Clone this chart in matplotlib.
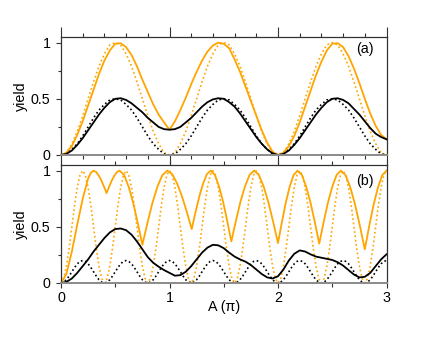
import numpy as np
import matplotlib
matplotlib.use("Agg")
import matplotlib.pyplot as plt
from matplotlib.ticker import MultipleLocator

plt.rcParams['font.family'] = ['Liberation Sans', 'DejaVu Sans']

# ---------------- panel (a) : A sampled every 0.05 pi ----------------
A_a = np.linspace(0, 3, 61)
orange_solid_a = [0.00, 0.02, 0.08, 0.18, 0.30, 0.44, 0.58, 0.72, 0.84, 0.93,
                  0.99, 0.995, 0.96, 0.89, 0.79, 0.67, 0.56, 0.45, 0.36, 0.29,
                  0.225, 0.30, 0.40, 0.51, 0.63, 0.74, 0.84, 0.92, 0.975, 1.00,
                  0.99, 0.95, 0.85, 0.74, 0.61, 0.48, 0.35, 0.22, 0.11, 0.03,
                  0.00, 0.02, 0.08, 0.17, 0.29, 0.43, 0.57, 0.71, 0.83, 0.93,
                  0.99, 0.995, 0.96, 0.88, 0.77, 0.64, 0.50, 0.37, 0.26, 0.18,
                  0.14]
black_solid_a = [0.00, 0.01, 0.04, 0.09, 0.15, 0.22, 0.29, 0.36, 0.42, 0.47,
                 0.50, 0.505, 0.49, 0.46, 0.42, 0.38, 0.33, 0.29, 0.25, 0.23,
                 0.225, 0.23, 0.25, 0.29, 0.33, 0.38, 0.43, 0.47, 0.495, 0.505,
                 0.50, 0.47, 0.43, 0.37, 0.30, 0.23, 0.16, 0.10, 0.05, 0.015,
                 0.00, 0.01, 0.04, 0.09, 0.15, 0.22, 0.29, 0.36, 0.42, 0.47,
                 0.50, 0.505, 0.49, 0.46, 0.41, 0.36, 0.30, 0.24, 0.19, 0.16,
                 0.14]
orange_dot_a = [0.00, 0.02, 0.10, 0.21, 0.35, 0.50, 0.65, 0.79, 0.90, 0.98,
                1.00, 0.98, 0.90, 0.79, 0.65, 0.50, 0.35, 0.21, 0.10, 0.02,
                0.00, 0.02, 0.10, 0.21, 0.35, 0.50, 0.65, 0.79, 0.90, 0.98,
                1.00, 0.98, 0.90, 0.79, 0.65, 0.50, 0.35, 0.21, 0.10, 0.02,
                0.00, 0.02, 0.10, 0.21, 0.35, 0.50, 0.65, 0.79, 0.90, 0.98,
                1.00, 0.98, 0.90, 0.79, 0.65, 0.50, 0.35, 0.21, 0.10, 0.02,
                0.00]
black_dot_a = [0.00, 0.01, 0.05, 0.10, 0.17, 0.25, 0.33, 0.40, 0.45, 0.49,
               0.50, 0.49, 0.45, 0.40, 0.33, 0.25, 0.17, 0.10, 0.05, 0.01,
               0.00, 0.01, 0.05, 0.10, 0.17, 0.25, 0.33, 0.40, 0.45, 0.49,
               0.50, 0.49, 0.45, 0.40, 0.33, 0.25, 0.17, 0.10, 0.05, 0.01,
               0.00, 0.01, 0.05, 0.10, 0.17, 0.25, 0.33, 0.40, 0.45, 0.49,
               0.50, 0.49, 0.45, 0.40, 0.33, 0.25, 0.17, 0.10, 0.05, 0.01,
               0.00]

# ---------------- panel (b) ----------------
A_b_orange = [0.00, 0.05, 0.10, 0.15, 0.20, 0.25, 0.275, 0.30,
              0.324, 0.348, 0.372, 0.396, 0.42, 0.444, 0.468, 0.492, 0.516, 0.54,
              0.582, 0.624, 0.666, 0.708, 0.75, 0.796, 0.842, 0.888, 0.934, 0.98,
              1.025, 1.07, 1.115, 1.16, 1.205, 1.24, 1.275, 1.31, 1.345, 1.38,
              1.418, 1.456, 1.494, 1.532, 1.57, 1.612, 1.654, 1.696, 1.738, 1.78,
              1.824, 1.868, 1.912, 1.956, 2.00, 2.036, 2.072, 2.108, 2.144, 2.18,
              2.22, 2.26, 2.30, 2.34, 2.38, 2.42, 2.46, 2.50, 2.54, 2.58,
              2.624, 2.668, 2.712, 2.756, 2.80, 2.84, 2.88, 2.92, 2.96, 3.00]
orange_solid_b = [0.00, 0.08, 0.28, 0.52, 0.75, 0.93, 0.98, 1.00,
                  0.988, 0.956, 0.912, 0.858, 0.80, 0.858, 0.912, 0.956, 0.988, 1.00,
                  0.960, 0.855, 0.710, 0.531, 0.34, 0.531, 0.710, 0.855, 0.960, 1.00,
                  0.969, 0.886, 0.771, 0.631, 0.48, 0.631, 0.771, 0.886, 0.969, 1.00,
                  0.962, 0.861, 0.723, 0.553, 0.37, 0.553, 0.723, 0.861, 0.962, 1.00,
                  0.961, 0.858, 0.716, 0.542, 0.355, 0.542, 0.716, 0.858, 0.961, 1.00,
                  0.961, 0.857, 0.714, 0.539, 0.35, 0.539, 0.714, 0.857, 0.961, 1.00,
                  0.958, 0.846, 0.692, 0.503, 0.30, 0.503, 0.692, 0.846, 0.958, 1.00]

A_b_black = np.linspace(0, 3, 61)
black_solid_b = [0.00, 0.01, 0.04, 0.09, 0.15, 0.21, 0.28, 0.34, 0.40, 0.45,
                 0.48, 0.485, 0.47, 0.43, 0.37, 0.30, 0.23, 0.18, 0.145, 0.115,
                 0.09, 0.065, 0.07, 0.10, 0.15, 0.21, 0.27, 0.315, 0.34, 0.335,
                 0.31, 0.27, 0.235, 0.21, 0.19, 0.16, 0.12, 0.08, 0.05, 0.04,
                 0.06, 0.12, 0.20, 0.26, 0.29, 0.28, 0.255, 0.235, 0.225, 0.215,
                 0.205, 0.185, 0.155, 0.115, 0.075, 0.05, 0.055, 0.09, 0.15, 0.21,
                 0.255]

A_b_dot = np.linspace(0, 3, 121)
orange_dot_b = [0.00, 0.04, 0.15, 0.31, 0.50, 0.69, 0.85, 0.96, 1.00, 0.96, 0.85, 0.69, 0.50, 0.31, 0.15, 0.04,
                0.00, 0.04, 0.15, 0.31, 0.50, 0.69, 0.85, 0.96, 1.00, 0.96, 0.85, 0.69, 0.50, 0.31, 0.15, 0.04,
                0.00, 0.04, 0.15, 0.31, 0.50, 0.69, 0.85, 0.96, 1.00, 0.96, 0.85, 0.69, 0.50, 0.31, 0.15, 0.04,
                0.00, 0.04, 0.15, 0.31, 0.50, 0.69, 0.85, 0.96, 1.00, 0.96, 0.85, 0.69, 0.50, 0.31, 0.15, 0.04,
                0.00, 0.04, 0.15, 0.31, 0.50, 0.69, 0.85, 0.96, 1.00, 0.96, 0.85, 0.69, 0.50, 0.31, 0.15, 0.04,
                0.00, 0.04, 0.15, 0.31, 0.50, 0.69, 0.85, 0.96, 1.00, 0.96, 0.85, 0.69, 0.50, 0.31, 0.15, 0.04,
                0.00, 0.04, 0.15, 0.31, 0.50, 0.69, 0.85, 0.96, 1.00, 0.96, 0.85, 0.69, 0.50, 0.31, 0.15, 0.04,
                0.00, 0.04, 0.15, 0.31, 0.50, 0.69, 0.85, 0.96, 1.00]
black_dot_b = [0.000, 0.008, 0.029, 0.062, 0.100, 0.138, 0.171, 0.192, 0.200, 0.192, 0.171, 0.138, 0.100, 0.062, 0.029, 0.008,
               0.000, 0.008, 0.029, 0.062, 0.100, 0.138, 0.171, 0.192, 0.200, 0.192, 0.171, 0.138, 0.100, 0.062, 0.029, 0.008,
               0.000, 0.008, 0.029, 0.062, 0.100, 0.138, 0.171, 0.192, 0.200, 0.192, 0.171, 0.138, 0.100, 0.062, 0.029, 0.008,
               0.000, 0.008, 0.029, 0.062, 0.100, 0.138, 0.171, 0.192, 0.200, 0.192, 0.171, 0.138, 0.100, 0.062, 0.029, 0.008,
               0.000, 0.008, 0.029, 0.062, 0.100, 0.138, 0.171, 0.192, 0.200, 0.192, 0.171, 0.138, 0.100, 0.062, 0.029, 0.008,
               0.000, 0.008, 0.029, 0.062, 0.100, 0.138, 0.171, 0.192, 0.200, 0.192, 0.171, 0.138, 0.100, 0.062, 0.029, 0.008,
               0.000, 0.008, 0.029, 0.062, 0.100, 0.138, 0.171, 0.192, 0.200, 0.192, 0.171, 0.138, 0.100, 0.062, 0.029, 0.008,
               0.000, 0.008, 0.029, 0.062, 0.100, 0.138, 0.171, 0.192, 0.200]

y_ticks = [0, 0.5, 1]
y_ticklabels = ["0", "0.5", "1"]
x_ticks = [0, 1, 2, 3]
x_ticklabels = ["0", "1", "2", "3"]
panel_labels = ["(a)", "(b)"]

ORANGE = "#FFA500"
DOT = (0, (1.0, 1.6))
FS = 10.3

fig = plt.figure(figsize=(4.36, 3.37), dpi=100)
W, H = 436, 337
def rect(l, t, r, b):
    return [l / W, 1 - b / H, (r - l) / W, (b - t) / H]

ax1 = fig.add_axes(rect(61, 37, 386.5, 155))
ax2 = fig.add_axes(rect(61, 165, 386.5, 283))

ax1.plot(A_a, orange_dot_a, color=ORANGE, lw=1.2, ls=DOT)
ax1.plot(A_a, black_dot_a, color="black", lw=1.2, ls=DOT)
ax1.plot(A_a, orange_solid_a, color=ORANGE, lw=1.3)
ax1.plot(A_a, black_solid_a, color="black", lw=1.3)

ax2.plot(A_b_dot, orange_dot_b, color=ORANGE, lw=1.2, ls=DOT)
ax2.plot(A_b_dot, black_dot_b, color="black", lw=1.2, ls=DOT)
ax2.plot(A_b_orange, orange_solid_b, color=ORANGE, lw=1.3)
ax2.plot(A_b_black, black_solid_b, color="black", lw=1.3)

for ax, lab, ly in ((ax1, panel_labels[0], 0.90), (ax2, panel_labels[1], 0.865)):
    ax.set_xlim(0, 3)
    ax.set_ylim(0, 1.05)
    ax.set_yticks(y_ticks)
    ax.set_yticklabels(y_ticklabels, fontsize=FS)
    ax.yaxis.set_minor_locator(MultipleLocator(0.25))
    ax.set_ylabel("yield", fontsize=FS, labelpad=2)
    ax.text(0.934, ly, lab, transform=ax.transAxes, fontsize=FS,
            ha="center", va="center")
    for s in ax.spines.values():
        s.set_color("#333333")
        s.set_linewidth(0.9)
    ax.spines["bottom"].set_color("#8a8a8a")
    ax.spines["bottom"].set_linewidth(1.4)
    ax.tick_params(axis="y", which="both", direction="out", left=True,
                   right=False, colors="#333333", labelcolor="black", pad=4.0)
    ax.tick_params(axis="y", which="major", length=3.5, width=0.8)
    ax.tick_params(axis="y", which="minor", length=2.5, width=0.8)

# panel (a) x ticks: every 0.2, top & bottom, outward, no labels
ax1.set_xticks(x_ticks)
ax1.xaxis.set_minor_locator(MultipleLocator(0.2))
ax1.tick_params(axis="x", which="both", direction="out", top=True, bottom=True,
                labelbottom=False, colors="#333333", width=0.8)
ax1.tick_params(axis="x", which="major", length=7)
ax1.tick_params(axis="x", which="minor", length=3)

# panel (b) x ticks
ax2.set_xticks(x_ticks)
ax2.set_xticklabels(x_ticklabels, fontsize=FS)
ax2.xaxis.set_minor_locator(MultipleLocator(0.5))
ax2.tick_params(axis="x", which="both", direction="out", top=True, bottom=True,
                colors="#333333", labelcolor="black", width=0.8, pad=2.5)
ax2.tick_params(axis="x", which="major", length=3.5)
ax2.tick_params(axis="x", which="minor", length=3)
ax2.set_xlabel("A (π)", fontsize=FS, labelpad=-4)

fig.savefig("out.png", dpi=100)
